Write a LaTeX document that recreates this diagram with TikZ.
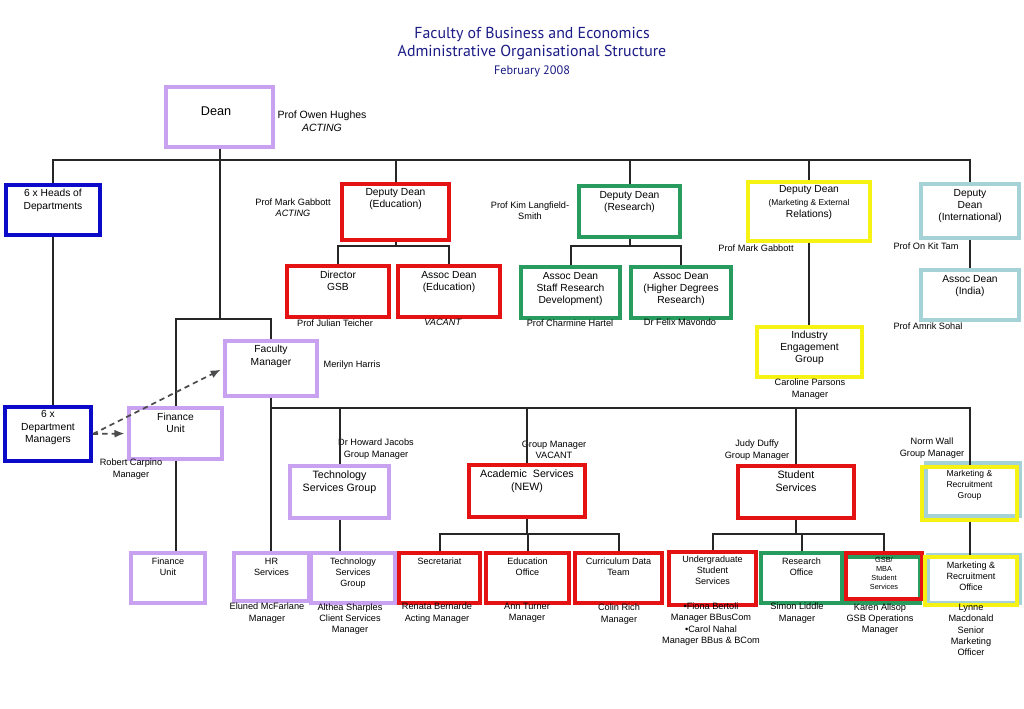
\documentclass[tikz,border=0pt]{standalone}
\usepackage{fontspec}
\setmainfont{Liberation Sans}
\newfontfamily\titlefont{PT Sans}
\usepackage{tikz}
\usetikzlibrary{fit, positioning, arrows.meta}

\definecolor{purp}{RGB}{200,162,240}
\definecolor{dblue}{RGB}{10,10,200}
\definecolor{ored}{RGB}{228,18,18}
\definecolor{ogreen}{RGB}{40,155,95}
\definecolor{oyellow}{RGB}{245,242,20}
\definecolor{lblue}{RGB}{165,210,215}
\definecolor{navy}{RGB}{28,28,135}

\tikzset{
  box/.style={draw=#1, line width=2.8pt, inner sep=0pt},
  btext/.style={align=center, inner sep=0pt, font=\fontsize{7.7}{9.2}\selectfont},
  lowtext/.style={align=center, inner sep=0pt, font=\fontsize{6.8}{8.3}\selectfont},
  who/.style={align=center, inner sep=0pt, font=\fontsize{6.9}{8.5}\selectfont},
  link/.style={line width=1.5pt, draw=black!85},
  hint/.style={line width=1.3pt, draw=black!70, dash pattern=on 4pt off 3pt, -{Latex[length=7.5pt,width=6pt]}, shorten >=2pt},
  title/.style={inner sep=0pt, text=navy, font=\titlefont\fontsize{#1}{#1}\selectfont}
}

\begin{document}
\begin{tikzpicture}[x=0.75pt, y=-0.75pt]
\path[fill=white] (0,0) rectangle (1024,709);
\useasboundingbox (0,0) rectangle (1024,709);

\node[title=11.9] (title1) at (532,35) {Faculty of Business and Economics};
\node[title=11.9] (title2) at (532,53) {Administrative Organisational Structure};
\node[title=9.2] (title3) at (532,71) {February 2008};

\node[box=purp, fit={(166,87) (273,147)}] (dean) {};
\node[btext, font=\fontsize{9.5}{11}\selectfont] (dean-t) at (216,111) {Dean};
\node[who, font=\fontsize{7.9}{9.4}\selectfont] (owen) at (322,121) {Prof Owen Hughes\\\textit{ACTING}};

\node[box=dblue, fit={(6,185) (100,235)}] (hod) {};
\node[btext, below=4.5pt of hod.north] (hod-t) {6 x Heads of\\Departments};
\node[box=ored, fit={(342,184) (449,240)}] (dde) {};
\node[btext, below=4.5pt of dde.north] (dde-t) {Deputy Dean\\(Education)};
\node[who] (gabbott1) at (293,208) {Prof Mark Gabbott\\\textit{ACTING}};
\node[box=ogreen, fit={(579,186) (680,237)}] (ddr) {};
\node[btext, below=5pt of ddr.north] (ddr-t) {Deputy Dean\\(Research)};
\node[who] (kim) at (530,211) {Prof Kim Langfield-\\Smith};
\node[box=oyellow, fit={(748,182) (870,241)}] (ddm) {};
\node[btext, below=4pt of ddm.north] (ddm-t) {Deputy Dean\\\fontsize{6.3}{8.2}\selectfont (Marketing \& External\\Relations)};
\node[who] (gabbott2) at (756,248) {Prof Mark Gabbott};
\node[box=lblue, fit={(921,184) (1019,238)}] (ddi) {};
\node[btext, below=5pt of ddi.north] (ddi-t) {Deputy\\Dean\\(International)};
\node[who] (tam) at (926,246) {Prof On Kit Tam};

\node[box=ored, fit={(287,266) (389,317)}] (gsb) {};
\node[btext, below=5pt of gsb.north] (gsb-t) {Director\\GSB};
\node[who] (teicher) at (335,323) {Prof Julian Teicher};
\node[box=ored, fit={(398,266) (500,317)}] (ade) {};
\node[btext, below=5pt of ade.north] (ade-t) {Assoc Dean\\(Education)};
\node[who] (vacant1) at (443,322) {\textit{VACANT}};
\node[box=ogreen, fit={(521,267) (620,318)}] (asr) {};
\node[btext, below=5pt of asr.north] (asr-t) {Assoc Dean\\Staff Research\\Development)};
\node[who] (hartel) at (570,323) {Prof Charmine Hartel};
\node[box=ogreen, fit={(631,267) (731,318)}] (ahd) {};
\node[btext, below=5pt of ahd.north] (ahd-t) {Assoc Dean\\(Higher Degrees\\Research)};
\node[who] (mavondo) at (680,322) {Dr Felix Mavondo};
\node[box=lblue, fit={(921,270) (1019,320)}] (adi) {};
\node[btext, below=5pt of adi.north] (adi-t) {Assoc Dean\\(India)};
\node[who] (sohal) at (928,326) {Prof Amrik Sohal};

\node[box=oyellow, fit={(757,327) (862,377)}] (ieg) {};
\node[btext, below=4pt of ieg.north] (ieg-t) {Industry\\Engagement\\Group};
\node[who] (parsons) at (810,389) {Caroline Parsons\\Manager};
\node[box=purp, fit={(225,341) (317,396)}] (fm) {};
\node[btext, below=4.5pt of fm.north] (fm-t) {Faculty\\Manager};
\node[who] (harris) at (352,365) {Merilyn Harris};
\node[box=purp, fit={(129,408) (222,459)}] (fu) {};
\node[btext, below=5pt of fu.north] (fu-t) {Finance\\Unit};
\node[who] (carpino) at (131,469) {Robert Carpino\\Manager};
\node[box=dblue, fit={(5,407) (91,461)}] (dm) {};
\node[btext, below=4pt of dm.north] (dm-t) {6 x\\Department\\Managers};

\node[box=purp, fit={(290,466) (389,518)}] (tsg) {};
\node[btext, font=\fontsize{8}{9.6}\selectfont, below=5pt of tsg.north] (tsg-t) {Technology\\Services Group};
\node[who] (jacobs) at (376,449) {Dr Howard Jacobs\\Group Manager};
\node[box=ored, fit={(469,465) (585,517)}] (acs) {};
\node[btext, font=\fontsize{8}{9.6}\selectfont, below=5pt of acs.north] (acs-t) {Academic\ \ Services\\(NEW)};
\node[who] (gmvacant) at (554,450) {Group Manager\\VACANT};
\node[box=ored, fit={(738,466) (854,518)}] (sts) {};
\node[btext, font=\fontsize{8}{9.6}\selectfont, below=5pt of sts.north] (sts-t) {Student\\Services};
\node[who] (duffy) at (757,450) {Judy Duffy\\Group Manager};
\node[box=lblue, fit={(926,463) (1020,516)}] (mrg-b) {};
\node[box=oyellow, fit={(922,467) (1017,520)}] (mrg) {};
\node[lowtext, font=\fontsize{6.4}{8.2}\selectfont, below=4pt of mrg.north] (mrg-t) {Marketing \&\\Recruitment\\Group};
\node[who] (wall) at (932,448) {Norm Wall\\Group Manager};

\node[box=purp, fit={(131,553) (205,603)}] (fub) {};
\node[lowtext, below=5pt of fub.north] (fub-t) {Finance\\Unit};
\node[box=purp, fit={(234,553) (309,601)}] (hr) {};
\node[lowtext, below=5pt of hr.north] (hr-t) {HR\\Services};
\node[who] (mcfarlane) at (267,613) {Eluned McFarlane\\Manager};
\node[box=purp, fit={(311,553) (395,603)}] (tsb) {};
\node[lowtext, below=5pt of tsb.north] (tsb-t) {Technology\\Services\\Group};
\node[who] (sharples) at (350,619) {Althea Sharples\\Client Services\\Manager};
\node[box=ored, fit={(399,553) (480,603)}] (sec) {};
\node[lowtext, below=5pt of sec.north] (sec-t) {Secretariat};
\node[who] (bernarde) at (437,613) {Renata Bernarde\\Acting Manager};
\node[box=ored, fit={(486,553) (569,603)}] (edo) {};
\node[lowtext, below=5pt of edo.north] (edo-t) {Education\\Office};
\node[who] (turner) at (527,613) {Ann Turner\\Manager};
\node[box=ored, fit={(575,553) (662,603)}] (cdt) {};
\node[lowtext, below=5pt of cdt.north] (cdt-t) {Curriculum Data\\Team};
\node[who] (rich) at (619,614) {Colin Rich\\Manager};
\node[box=ored, fit={(669,552) (756,605)}] (ugs) {};
\node[lowtext, below=4pt of ugs.north] (ugs-t) {Undergraduate\\Student\\Services};
\node[who] (bertoli) at (711,624) {•Fiona Bertoli\\Manager BBusCom\\•Carol Nahal\\Manager BBus \& BCom};
\node[box=ogreen, fit={(761,553) (842,603)}] (rso) {};
\node[lowtext, below=5pt of rso.north] (rso-t) {Research\\Office};
\node[who] (liddle) at (797,613) {Simon Liddle\\Manager};
\node[box=ogreen, fit={(844,557) (920,603)}] (gsbs-g) {};
\node[box=ored, fit={(846,553) (922,599)}] (gsbs) {};
\node[lowtext, font=\fontsize{5.5}{6.8}\selectfont, below=4pt of gsbs.north] (gsbs-t) {GSB/\\MBA\\Student\\Services};
\node[who] (allsop) at (880,619) {Karen Allsop\\GSB Operations\\Manager};
\node[box=lblue, fit={(928,555) (1020,603)}] (mro-b) {};
\node[box=oyellow, fit={(925,557) (1017,605)}] (mro) {};
\node[lowtext, below=5pt of mro.north] (mro-t) {Marketing \&\\Recruitment\\Office};
\node[who] (macdonald) at (971,630) {Lynne\\Macdonald\\Senior\\Marketing\\Officer};

\coordinate (toprow) at (0,160);
\coordinate (subrow) at (0,246);
\coordinate (fmrow) at (0,319);
\coordinate (svrow) at (0,408);
\coordinate (lowrow) at (0,534);

\draw[link] (hod.north) -- (hod.north |- toprow) -- (ddi.north |- toprow) -- (ddi.north);
\foreach \n in {dde,ddr,ddm} \draw[link] (\n.north) -- (\n.north |- toprow);
\draw[link] (hod.south) -- (hod.south |- dm.north);
\draw[link] (dean.south) -- (dean.south |- fmrow);
\draw[link] (fu.north) -- (fu.north |- fmrow) -- (fm.north |- fmrow) -- (fm.north);
\draw[link] (dde.south) -- (dde.south |- subrow);
\draw[link] (gsb.north) -- (gsb.north |- subrow) -- (ade.north |- subrow) -- (ade.north);
\draw[link] (ddr.south) -- (ddr.south |- subrow);
\draw[link] (asr.north) -- (asr.north |- subrow) -- (ahd.north |- subrow) -- (ahd.north);
\draw[link] (ddm.south) -- (ddm.south |- ieg.north);
\draw[link] (ddi.south) -- (ddi.south |- adi.north);
\draw[link] (fu.south) -- (fu.south |- fub.north);
\draw[link] (fm.south) -- (fm.south |- hr.north);
\draw[link] (fm.south |- svrow) -- (mrg.north |- svrow) -- (mrg.north);
\foreach \n in {tsg,acs,sts} \draw[link] (\n.north) -- (\n.north |- svrow);
\draw[link] (tsg.south) -- (tsg.south |- tsb.north);
\draw[link] (acs.south) -- (acs.south |- lowrow);
\draw[link] (sec.north) -- (sec.north |- lowrow) -- (cdt.north |- lowrow) -- (cdt.north);
\draw[link] (edo.north) -- (edo.north |- lowrow);
\draw[link] (sts.south) -- (sts.south |- lowrow);
\draw[link] (ugs.north) -- (ugs.north |- lowrow) -- (gsbs.north |- lowrow) -- (gsbs.north);
\draw[link] (rso.north) -- (rso.north |- lowrow);
\draw[link] (mrg.south) -- (mrg.south |- mro.north);
\draw[hint] (dm.east) -- (fm.west);
\draw[hint] (dm.east) -- (fu.west);
\end{tikzpicture}
\end{document}
